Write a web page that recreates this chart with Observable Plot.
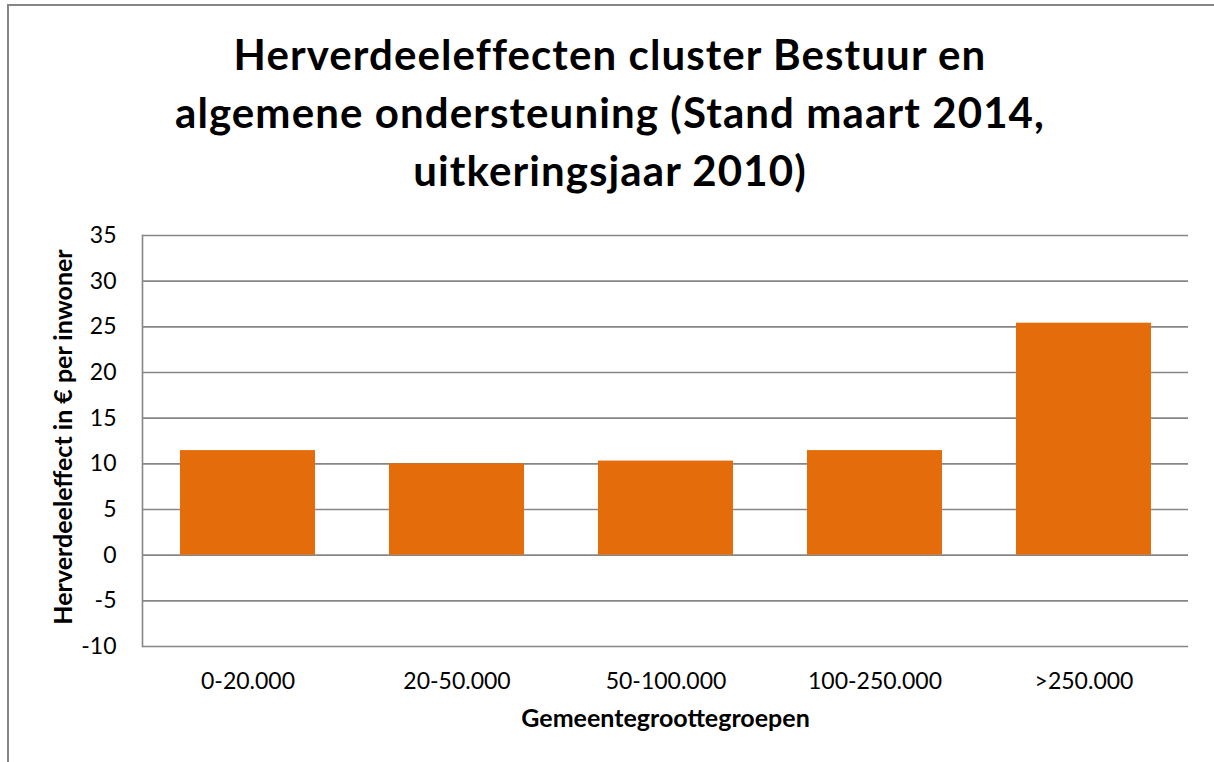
<!DOCTYPE html>
<html>
<head>
<meta charset="utf-8">
<script src="https://cdn.jsdelivr.net/npm/d3@7"></script>
<script src="https://cdn.jsdelivr.net/npm/@observablehq/plot@0.6"></script>
<style>
  html, body { margin: 0; padding: 0; background: #fff; }
  body { width: 1214px; height: 762px; position: relative; overflow: hidden; font-family: Lato, sans-serif; }
  #border { position: absolute; left: 7px; top: 4px; width: 1300px; height: 900px;
            border-left: 2px solid #868686; border-top: 2px solid #868686; }
  #title { position: absolute; left: 0; top: 25px; width: 1220px; text-align: center;
           font-family: Lato, sans-serif; font-weight: bold; font-size: 42px; letter-spacing: 1.1px;
           line-height: 58px; color: #000; }
  #chart { position: absolute; left: 0; top: 210px; }
</style>
</head>
<body>
<div id="border"></div>
<div id="title">Herverdeeleffecten cluster Bestuur en<br>algemene ondersteuning (Stand maart 2014,<br>uitkeringsjaar 2010)</div>
<div id="chart"></div>
<script>
const categories = ["0-20.000", "20-50.000", "50-100.000", "100-250.000", ">250.000"];
const values = [11.45, 10.0, 10.3, 11.45, 25.4];
const yTicks = [-10, -5, 0, 5, 10, 15, 20, 25, 30, 35];
const xTitle = "Gemeentegroottegroepen";
const yTitle = "Herverdeeleffect in € per inwoner";

const data = categories.map((c, i) => ({category: c, value: values[i]}));

const chart = Plot.plot({
  width: 1214,
  height: 552,
  marginTop: 25,
  marginBottom: 116,
  marginLeft: 142,
  marginRight: 26,
  style: {fontFamily: "Lato, sans-serif", fontSize: "23px", color: "#000", background: "transparent"},
  x: {domain: categories, paddingInner: 0.355, paddingOuter: 0.1775, label: null},
  y: {domain: [-10, 35], label: null},
  marks: [
    Plot.gridY(yTicks, {stroke: "#868686", strokeOpacity: 1, strokeWidth: 1.6}),
    Plot.frame({anchor: "left", stroke: "#868686", strokeWidth: 1.6}),
    Plot.barY(data, {x: "category", y: "value", fill: "#E46C0A"}),
    Plot.axisY(yTicks, {tickSize: 0, tickPadding: 26, label: null, fontSize: 23, tickFormat: d => String(d)}),
    Plot.axisX({tickSize: 0, tickPadding: 26, label: null, fontSize: 23}),
    Plot.text([xTitle], {frameAnchor: "bottom", dy: 80, fontWeight: "bold", fontSize: 25, fill: "#000"}),
    Plot.text([yTitle], {frameAnchor: "left", textAnchor: "middle", dx: -79, dy: -4, rotate: -90, fontWeight: "bold", fontSize: 25, fill: "#000"})
  ]
});
document.getElementById("chart").appendChild(chart);
</script>
</body>
</html>
